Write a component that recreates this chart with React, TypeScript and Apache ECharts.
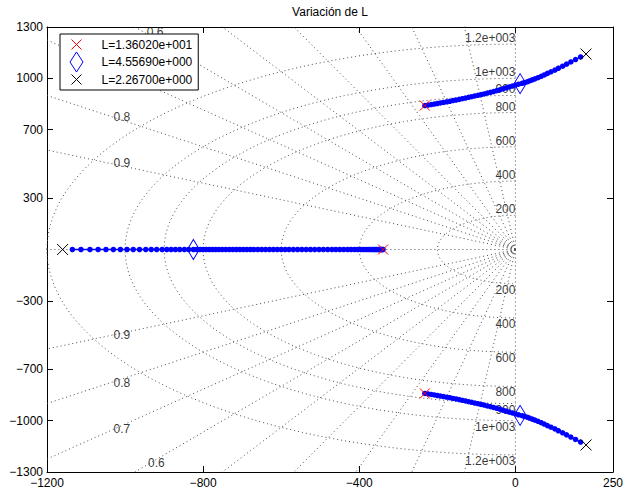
import React, { useEffect, useRef } from "react";
import * as echarts from "echarts";

const FONT = "'Liberation Sans', Arial, Helvetica, sans-serif";

// Axis ticks
const xTickValues = [-1200, -800, -400, 0, 250];
const yTickValues = [-1300, -1000, -700, -300, 300, 700, 1000, 1300];

// s-plane grid
const dampingRatios = [0.1, 0.2, 0.3, 0.4, 0.5, 0.6, 0.7, 0.8, 0.9];
const naturalFreqs = [200, 400, 600, 800, 900, 1000, 1200];
const naturalFreqLabels = ["200", "400", "600", "800", "900", "1e+003", "1.2e+003"];

// visible damping labels (the upper 0.7 one is hidden under the legend in the reference)
const dampingLabelText = ["0.6", "0.8", "0.9", "0.9", "0.8", "0.7", "0.6"];
const dampingLabelRe = [-923, -1008, -1008, -1008, -1008, -1008, -920];
const dampingLabelIm = [1268, 774, 505, -499, -779, -1050, -1245];

// Root locus: real branch (from L=13.602 towards L=2.267)
const realBranchRe = [
  -339, -341, -343, -346, -349, -352, -356, -360, -365, -370,
  -376, -382, -389, -396, -404, -412, -421, -430, -440, -450,
  -460, -470, -481, -492, -503, -514, -525, -536, -547, -558,
  -569, -580, -590, -600, -610, -620, -630, -640, -650, -660,
  -670, -679, -688, -697, -706, -715, -724, -733, -742, -751,
  -760, -768, -776, -784, -792, -800, -808, -816, -825, -837,
  -848, -860, -871, -882, -893, -905, -919, -933, -947, -963,
  -979, -995, -1012, -1030, -1049, -1069, -1090, -1113, -1135,
];

// Upper complex branch (lower branch is its conjugate)
const upperBranchRe = [
  -232, -224, -216, -208, -200, -192, -184, -176, -168, -160,
  -152, -144, -136, -128, -120, -112, -104, -96, -88, -80,
  -72, -64, -56, -48, -40, -32, -24, -16, -8, 0,
  8, 17, 23, 30, 36, 43, 50, 58, 66, 74,
  82, 91, 101, 110, 121, 131, 142, 154, 167,
];
const upperBranchIm = [
  841, 844, 847, 850, 853, 856, 859, 863, 866, 870,
  873, 877, 881, 885, 889, 893, 897, 901, 905, 909,
  914, 918, 923, 928, 933, 939, 944, 950, 955, 961,
  966, 971, 975, 980, 985, 991, 997, 1004, 1012, 1020,
  1029, 1038, 1048, 1059, 1071, 1083, 1096, 1110, 1125,
];

// Marked gains
const markerNames = ["L=1.36020e+001", "L=4.55690e+000", "L=2.26700e+000"];
const redMarkRe = [-339, -232, -232];
const redMarkIm = [0, 841, -841];
const diamondMarkRe = [-825, 12, 12];
const diamondMarkIm = [0, 969, -969];
const blackMarkRe = [-1160, 181, 181];
const blackMarkIm = [0, 1142, -1142];

const X_SYMBOL = "path://M0,0L10,10M10,0L0,10";
const DIAMOND_SYMBOL = "path://M6,0L12,10L6,20L0,10Z";
const X_ICON = "path://M0,0M20,20M5,5L15,15M15,5L5,15";
const DIAMOND_ICON = "path://M0,0M20,20M10,0L16.5,10L10,20L3.5,10Z";

const minusFmt = (v: number) => (v < 0 ? "\u2212" + Math.abs(v) : String(v));

export default function App() {
  const ref = useRef<HTMLDivElement>(null);

  useEffect(() => {
    if (!ref.current) return;
    const chart = echarts.init(ref.current, null, { renderer: "svg" });

    const R = 6000;
    const gridStyle = { color: "#4a4a4a", width: 1, type: [1, 3] as any };
    const gridSeries: any[] = [];
    const addGrid = (pts: number[][]) =>
      gridSeries.push({
        type: "line",
        data: pts,
        symbol: "none",
        silent: true,
        z: 1,
        lineStyle: gridStyle,
        clip: true,
        emphasis: { disabled: true },
      });
    dampingRatios.forEach((z) => {
      const s = Math.sqrt(1 - z * z);
      addGrid([[0, 0], [-R * z, R * s]]);
      addGrid([[0, 0], [-R * z, -R * s]]);
    });
    addGrid([[0, 0], [0, R]]);
    addGrid([[0, 0], [0, -R]]);
    addGrid([[0, 0], [-R, 0]]);
    naturalFreqs.forEach((w) => {
      const pts: number[][] = [];
      for (let a = 90; a <= 270; a += 1) {
        const t = (a * Math.PI) / 180;
        pts.push([w * Math.cos(t), w * Math.sin(t)]);
      }
      addGrid(pts);
    });

    const labelData: any[] = [];
    dampingLabelText.forEach((t, i) =>
      labelData.push({
        value: [dampingLabelRe[i], dampingLabelIm[i]],
        name: t,
        label: { align: "center", verticalAlign: "middle" },
      })
    );
    naturalFreqs.forEach((w, i) => {
      labelData.push({
        value: [0, w],
        name: naturalFreqLabels[i],
        label: { align: "right", verticalAlign: "bottom" },
      });
      labelData.push({
        value: [0, -w],
        name: naturalFreqLabels[i],
        label: { align: "right", verticalAlign: "top" },
      });
    });

    const locusStyle = {
      type: "line",
      symbol: "circle",
      symbolSize: 5.5,
      showSymbol: true,
      silent: true,
      z: 3,
      itemStyle: { color: "#0000ff" },
      lineStyle: { color: "#0000ff", width: 1.5 },
      emphasis: { disabled: true },
    };

    const markerSeries = (name: string, re: number[], im: number[], symbol: string, size: any, color: string) => ({
      type: "scatter",
      name,
      data: re.map((x, i) => [x, im[i]]),
      symbol,
      symbolSize: size,
      silent: true,
      z: 4,
      itemStyle: { color: "transparent", borderColor: color, borderWidth: 1, opacity: 1 },
      emphasis: { disabled: true },
    });

    const axisCommon = {
      type: "value",
      axisLine: { show: true, onZero: false, lineStyle: { color: "#000", width: 1 } },
      splitLine: { show: false },
    };

    chart.setOption({
      animation: false,
      textStyle: { fontFamily: FONT },
      title: {
        text: "Variación de L",
        left: 330,
        top: 6,
        padding: 0,
        textAlign: "center",
        textStyle: { fontSize: 12, fontWeight: "normal", color: "#000", fontFamily: FONT },
      },
      grid: { left: 47, top: 27, right: 12, bottom: 22, containLabel: false, outerBoundsMode: "none" },
      legend: {
        orient: "vertical",
        left: 60,
        top: 34,
        itemWidth: 40,
        itemHeight: 20,
        itemGap: -3.5,
        padding: [0, 6, 0, 6],
        backgroundColor: "#fff",
        borderColor: "#000",
        borderWidth: 1,
        selectedMode: false,
        textStyle: { fontSize: 12, color: "#000", fontFamily: FONT },
        data: [
          { name: markerNames[0], icon: X_ICON, itemStyle: { color: "transparent", borderColor: "#ff0000", borderWidth: 1 } },
          { name: markerNames[1], icon: DIAMOND_ICON, itemStyle: { color: "transparent", borderColor: "#0000ff", borderWidth: 1 } },
          { name: markerNames[2], icon: X_ICON, itemStyle: { color: "transparent", borderColor: "#000000", borderWidth: 1 } },
        ],
      },
      xAxis: [
        {
          ...axisCommon,
          position: "bottom",
          min: -1200,
          max: 250,
          axisTick: { show: true, inside: true, length: 6, customValues: xTickValues, lineStyle: { color: "#000" } },
          axisLabel: { show: true, customValues: xTickValues, margin: 5, color: "#000", fontSize: 12, fontFamily: FONT, formatter: minusFmt },
        },
        {
          ...axisCommon,
          position: "top",
          min: -1200,
          max: 250,
          axisTick: { show: true, inside: true, length: 6, customValues: xTickValues, lineStyle: { color: "#000" } },
          axisLabel: { show: false },
        },
      ],
      yAxis: [
        {
          ...axisCommon,
          position: "left",
          min: -1300,
          max: 1300,
          axisTick: { show: true, inside: true, length: 6, customValues: yTickValues, lineStyle: { color: "#000" } },
          axisLabel: { show: true, customValues: yTickValues, margin: 4, color: "#000", fontSize: 12, fontFamily: FONT, formatter: minusFmt },
        },
        {
          ...axisCommon,
          position: "right",
          min: -1300,
          max: 1300,
          axisTick: { show: true, inside: true, length: 6, customValues: yTickValues, lineStyle: { color: "#000" } },
          axisLabel: { show: false },
        },
      ],
      series: [
        ...gridSeries,
        {
          type: "scatter",
          data: labelData,
          symbol: "circle",
          symbolSize: 1,
          silent: true,
          z: 2,
          itemStyle: { color: "transparent" },
          label: { show: true, position: "inside", formatter: "{b}", color: "#000", fontSize: 12, fontFamily: FONT },
          emphasis: { disabled: true },
        },
        { ...locusStyle, data: realBranchRe.map((x) => [x, 0]) },
        { ...locusStyle, data: upperBranchRe.map((x, i) => [x, upperBranchIm[i]]) },
        { ...locusStyle, data: upperBranchRe.map((x, i) => [x, -upperBranchIm[i]]) },
        markerSeries(markerNames[0], redMarkRe, redMarkIm, X_SYMBOL, 10, "#ff0000"),
        markerSeries(markerNames[1], diamondMarkRe, diamondMarkIm, DIAMOND_SYMBOL, [12, 20], "#0000ff"),
        markerSeries(markerNames[2], blackMarkRe, blackMarkIm, X_SYMBOL, 11, "#000000"),
      ],
    });

    return () => chart.dispose();
  }, []);

  return (
    <div
      ref={ref}
      style={{ position: "absolute", left: 0, top: 0, width: 625, height: 494, background: "#fff" }}
    />
  );
}
